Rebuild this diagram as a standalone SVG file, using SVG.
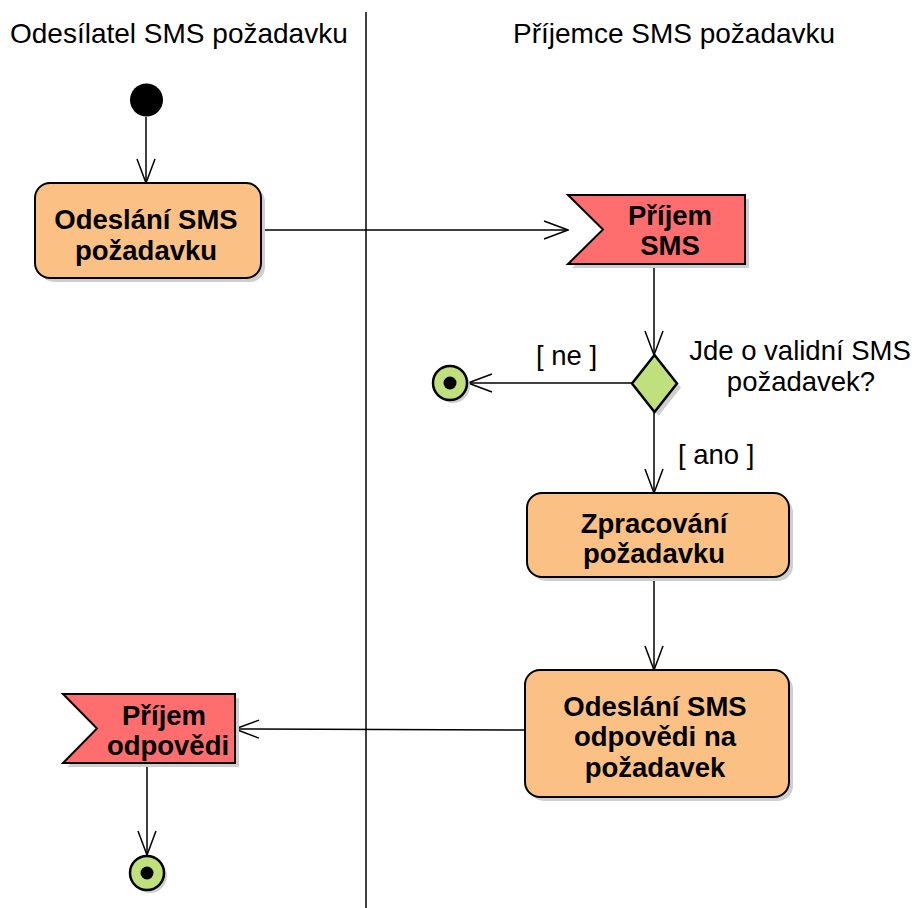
<svg xmlns="http://www.w3.org/2000/svg" width="912" height="908" viewBox="0 0 912 908">
  <defs>
    <marker id="open" viewBox="0 0 26 20" refX="25" refY="10" markerWidth="26" markerHeight="20" markerUnits="userSpaceOnUse" orient="auto">
      <path d="M1,1 L25,10 L1,19" fill="none" stroke="#000" stroke-width="1.5"/>
    </marker>
  </defs>
  <style>
    .lane { font-family: "Liberation Sans", Arial, sans-serif; font-size: 28px; fill: #000; }
    .lbl { font-family: "Liberation Sans", Arial, sans-serif; font-size: 27.5px; font-weight: bold; fill: #000; text-anchor: middle; }
    .guard { font-family: "Liberation Sans", Arial, sans-serif; font-size: 27.5px; fill: #000; }
    .shadow { fill: #cfcfcf; }
    .action { fill: #fbc084; stroke: #000; stroke-width: 2; }
    .signal { fill: #ff6e6e; stroke: #000; stroke-width: 2; }
    .green { fill: #bfe07c; stroke: #000; stroke-width: 2.5; }
    .edge { fill: none; stroke: #000; stroke-width: 1.5; marker-end: url(#open); }
  </style>

  <rect width="912" height="908" fill="#fff"/>

  <!-- swimlanes -->
  <g id="lanes">
    <line x1="366" y1="12" x2="366" y2="908" stroke="#000" stroke-width="1.5"/>
    <text class="lane" x="10" y="43">Odesílatel SMS požadavku</text>
    <text class="lane" x="513" y="43">Příjemce SMS požadavku</text>
  </g>

  <!-- connectors -->
  <g id="connectors">
    <line class="edge" x1="146" y1="117" x2="146" y2="183"/>
    <line class="edge" x1="261" y1="230" x2="568" y2="230"/>
    <line class="edge" x1="654" y1="264" x2="654" y2="355"/>
    <line class="edge" x1="632" y1="383" x2="468" y2="383"/>
    <line class="edge" x1="654" y1="412" x2="654" y2="493"/>
    <line class="edge" x1="654" y1="577" x2="654" y2="670"/>
    <line class="edge" x1="525" y1="730" x2="235" y2="729"/>
    <line class="edge" x1="147" y1="763" x2="147" y2="855"/>
    <text class="guard" x="536" y="365">[ ne ]</text>
    <text class="guard" x="678" y="464">[ ano ]</text>
  </g>

  <!-- initial node -->
  <g id="start">
    <circle cx="146.5" cy="100" r="16.5" fill="#000"/>
  </g>

  <g id="send-request">
    <rect class="shadow" x="39" y="187" width="226" height="95" rx="15"/>
    <rect class="action" x="35" y="183" width="226" height="95" rx="15"/>
    <text class="lbl" x="146" y="229">Odeslání SMS</text>
    <text class="lbl" x="146" y="260">požadavku</text>
  </g>

  <g id="receive-sms">
    <polygon class="shadow" points="572,199 749,199 749,268 572,268 607,233.5"/>
    <polygon class="signal" points="568,195 745,195 745,264 568,264 603,229.5"/>
    <text class="lbl" x="670" y="225">Příjem</text>
    <text class="lbl" x="670" y="255">SMS</text>
  </g>

  <g id="decision">
    <polygon class="shadow" points="658.5,359 681,387.5 658.5,416 636,387.5"/>
    <polygon class="green" points="654.5,355 677,383.5 654.5,412 632,383.5" stroke-width="2"/>
    <text class="guard" x="800" y="360" text-anchor="middle">Jde o validní SMS</text>
    <text class="guard" x="801" y="391" text-anchor="middle">požadavek?</text>
  </g>

  <g id="end-invalid">
    <circle class="shadow" cx="453" cy="386" r="17"/>
    <circle class="green" cx="450" cy="383" r="17"/>
    <circle cx="450" cy="383" r="6.5" fill="#000"/>
  </g>

  <g id="process-request">
    <rect class="shadow" x="531" y="497" width="262" height="84" rx="15"/>
    <rect class="action" x="527" y="493" width="262" height="84" rx="15"/>
    <text class="lbl" x="654" y="533">Zpracování</text>
    <text class="lbl" x="654" y="563">požadavku</text>
  </g>

  <g id="send-reply">
    <rect class="shadow" x="529" y="674" width="264" height="127" rx="15"/>
    <rect class="action" x="525" y="670" width="264" height="127" rx="15"/>
    <text class="lbl" x="655" y="716">Odeslání SMS</text>
    <text class="lbl" x="655" y="746">odpovědi na</text>
    <text class="lbl" x="655" y="777">požadavek</text>
  </g>

  <g id="receive-reply">
    <polygon class="shadow" points="67,698 239,698 239,767 67,767 101,732.5"/>
    <polygon class="signal" points="63,694 235,694 235,763 63,763 97,728.5"/>
    <text class="lbl" x="164" y="725">Příjem</text>
    <text class="lbl" x="168" y="755">odpovědi</text>
  </g>

  <g id="end">
    <circle class="shadow" cx="150" cy="876" r="17"/>
    <circle class="green" cx="147" cy="873" r="17"/>
    <circle cx="147" cy="873" r="6.5" fill="#000"/>
  </g>
</svg>
